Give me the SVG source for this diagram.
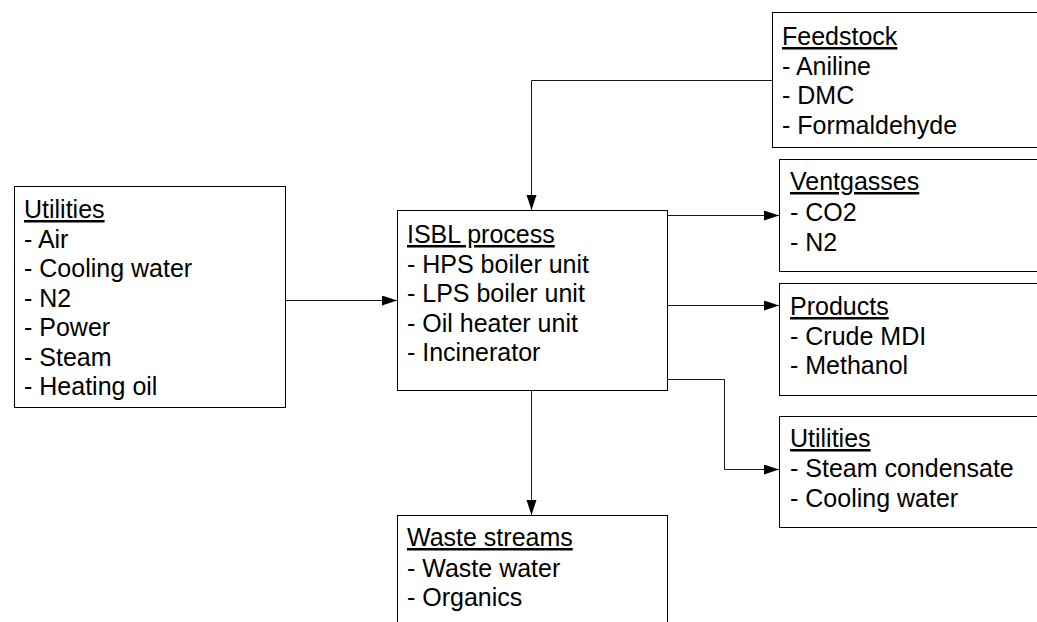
<svg xmlns="http://www.w3.org/2000/svg" width="1037" height="622" viewBox="0 0 1037 622">
<defs>
<marker id="arr" markerUnits="userSpaceOnUse" markerWidth="16" markerHeight="12" refX="15" refY="5" orient="auto">
<path d="M0,0 L15,5 L0,10 Z" fill="#000"/>
</marker>
<style>
.box{fill:#fff;stroke:#000;stroke-width:1}
.t{font-family:"Liberation Sans",Arial,sans-serif;font-size:25px;fill:#000}
.h{text-decoration:underline}
.c{fill:none;stroke:#1a1a1a;stroke-width:1;marker-end:url(#arr)}
</style>
</defs>
<rect width="1037" height="622" fill="#fff"/>
<g id="utilities-in">
<rect class="box" x="14.5" y="186.5" width="271" height="221"/>
<text class="t" x="24"><tspan class="h" x="24" y="218">Utilities</tspan><tspan x="24" y="247.5">- Air</tspan><tspan x="24" y="277">- Cooling water</tspan><tspan x="24" y="306.5">- N2</tspan><tspan x="24" y="336">- Power</tspan><tspan x="24" y="365.5">- Steam</tspan><tspan x="24" y="395">- Heating oil</tspan></text>
</g>
<g id="isbl">
<rect class="box" x="397.5" y="210.5" width="270" height="180"/>
<text class="t"><tspan class="h" x="407" y="243">ISBL process</tspan><tspan x="407" y="272.5">- HPS boiler unit</tspan><tspan x="407" y="302">- LPS boiler unit</tspan><tspan x="407" y="331.5">- Oil heater unit</tspan><tspan x="407" y="361">- Incinerator</tspan></text>
</g>
<g id="feedstock">
<rect class="box" x="772.5" y="12.5" width="300" height="135"/>
<text class="t"><tspan class="h" x="782" y="45">Feedstock</tspan><tspan x="782" y="74.5">- Aniline</tspan><tspan x="782" y="104">- DMC</tspan><tspan x="782" y="133.5">- Formaldehyde</tspan></text>
</g>
<g id="ventgasses">
<rect class="box" x="779.5" y="159.5" width="300" height="112"/>
<text class="t"><tspan class="h" x="790" y="190">Ventgasses</tspan><tspan x="790" y="220.5">- CO2</tspan><tspan x="790" y="250.5">- N2</tspan></text>
</g>
<g id="products">
<rect class="box" x="779.5" y="283.5" width="300" height="112"/>
<text class="t"><tspan class="h" x="790" y="315">Products</tspan><tspan x="790" y="344.5">- Crude MDI</tspan><tspan x="790" y="374">- Methanol</tspan></text>
</g>
<g id="utilities-out">
<rect class="box" x="779.5" y="416.5" width="300" height="111"/>
<text class="t"><tspan class="h" x="790" y="447">Utilities</tspan><tspan x="790" y="477">- Steam condensate</tspan><tspan x="790" y="507">- Cooling water</tspan></text>
</g>
<g id="waste">
<rect class="box" x="397.5" y="515.5" width="270" height="200"/>
<text class="t"><tspan class="h" x="407" y="546">Waste streams</tspan><tspan x="407" y="576.5">- Waste water</tspan><tspan x="407" y="606">- Organics</tspan></text>
</g>
<g id="connectors">
<path class="c" d="M772,80.5 H531.5 V210"/>
<path class="c" d="M285,300.5 H397"/>
<path class="c" d="M667,215.5 H779"/>
<path class="c" d="M667,305.5 H779"/>
<path class="c" d="M667,379.5 H724.5 V469.5 H779"/>
<path class="c" d="M531.5,390 V515"/>
</g>
</svg>
